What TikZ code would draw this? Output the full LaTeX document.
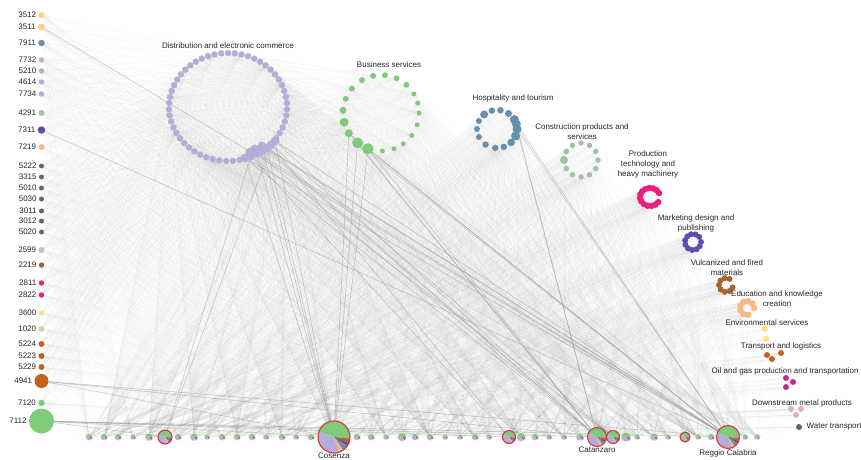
\documentclass[tikz,border=0pt]{standalone}
\usepackage{fontspec}
\setmainfont{Liberation Sans}
\usetikzlibrary{positioning}
\pgfdeclarelayer{edges}
\pgfsetlayers{edges,main}
\definecolor{cLav}{HTML}{B6ADD6}
\definecolor{cGreen}{HTML}{7FCB7A}
\definecolor{cSteel}{HTML}{6690AC}
\definecolor{cSage}{HTML}{9DC4A4}
\definecolor{cPink}{HTML}{EA1F7B}
\definecolor{cIndigo}{HTML}{5A4DB2}
\definecolor{cBrown}{HTML}{A6652F}
\definecolor{cPeach}{HTML}{F5B981}
\definecolor{cYellow}{HTML}{FBE47C}
\definecolor{cLemon}{HTML}{FDD37E}
\definecolor{cOrange}{HTML}{C2601C}
\definecolor{cMagenta}{HTML}{C22A90}
\definecolor{cRose}{HTML}{DBB4B6}
\definecolor{cGrey}{HTML}{666666}
\definecolor{cOlive}{HTML}{C5D99B}
\definecolor{cRed}{HTML}{D8343C}
\tikzset{
  x=1pt, y=-1pt,
  dot/.style={circle, inner sep=0pt, draw=none},
  lab/.style={font=\fontsize{8}{10}\selectfont, text=black!85, inner sep=0.5pt, align=center},
  haze/.style={draw=gray, line width=0.2pt, draw opacity=0.065},
  link/.style={draw=gray!85, line width=0.6pt, draw opacity=0.45},
  plainpie/.style={draw=white, line width=0.3pt},
  citypie/.style={draw=cRed, line width=1.1pt},
}
% pie slices inside a node: #1 node, #2 radius
\newcommand{\pieslices}[2]{%
  \fill[cGreen] (#1.center) -- ++(160:#2) arc[start angle=160, end angle=-5, radius=#2] -- cycle;
  \fill[cOrange] (#1.center) -- ++(-5:#2) arc[start angle=-5, end angle=-22, radius=#2] -- cycle;
  \fill[cIndigo] (#1.center) -- ++(-22:#2) arc[start angle=-22, end angle=-34, radius=#2] -- cycle;
  \fill[cSteel] (#1.center) -- ++(-34:#2) arc[start angle=-34, end angle=-55, radius=#2] -- cycle;
  \fill[cPeach] (#1.center) -- ++(-55:#2) arc[start angle=-55, end angle=-72, radius=#2] -- cycle;
  \fill[cLav] (#1.center) -- ++(-72:#2) arc[start angle=-72, end angle=-200, radius=#2] -- cycle;
}

\begin{document}
\begin{tikzpicture}
\useasboundingbox (0,0) rectangle (861,459);

% sector codes
\foreach \code/\y/\col/\s in {3512/15/cLemon/6, 3511/27/cLemon/7, 7911/43/cSteel/6.5,
    7732/60/cLav/5.5, 5210/71/cLav/5.5, 4614/82/cLav/5.5, 7734/94/cLav/5.5,
    4291/113/cSage/6, 7311/130/cIndigo/7.5, 7219/147/cPeach/6,
    5222/166/cGrey/5, 3315/177/cGrey/5, 5010/188/cGrey/5, 5030/199/cGrey/5,
    3011/211/cGrey/5, 3012/221/cGrey/5, 5020/232/cGrey/5, 2599/250/cRose/6,
    2219/265/cBrown/5.5, 2811/283/cPink/5.5, 2822/295/cPink/5.5, 3600/313/cYellow/5.5,
    1020/329/cOlive/6, 5224/344/cOrange/6, 5223/356/cOrange/6, 5229/367/cOrange/6,
    4941/381/cOrange/14, 7120/403/cGreen/6.5, 7112/421/cGreen/25}
  \node[dot, fill=\col, minimum size={\s*1pt}, label={[lab, label distance=1.5pt]left:\code}] (l\code) at (41.5,\y) {};

% distribution and electronic commerce
\node[lab] (distlab) at (228,46) {Distribution and electronic commerce};
\foreach \a [count=\i] in {72,78.6,...,400}
  \node[dot, fill=cLav, minimum size=6.5pt] (dist\i) at ({228+59*cos(\a)},{107+54*sin(\a)}) {};
\foreach \p [count=\i] in {(245,158),(251,156),(257,153),(262,151),(267,148),(271,145),(275,141),(255,149),(262,146),(250,152)}
  \node[dot, fill=cLav, minimum size=9pt] (blob\i) at \p {};

% business services
\node[lab] (buslab) at (389,65) {Business services};
\foreach \a/\s [count=\i] in {0/5, 18/5, 36/5, 54/5, 70/5, 88/5, 110/11, 128/11, 148/8, 166/9,
    184/7, 202/6, 220/6, 240/6, 258/6, 276/6, 294/6, 312/6, 330/5, 345/5}
  \node[dot, fill=cGreen, minimum size={\s*1pt}] (bus\i) at ({381+38*cos(\a)},{113+38*sin(\a)}) {};

% hospitality and tourism
\node[lab] (hoslab) at (513,98) {Hospitality and tourism};
\foreach \a/\s [count=\i] in {0/9, 22/9, 45/7.5, 70/6.5, 95/6.5, 125/6.5, 155/6, 180/6,
    205/6, 230/8, 255/6.5, 280/6.5, 305/7, 330/9, 345/9}
  \node[dot, fill=cSteel, minimum size={\s*1pt}] (hos\i) at ({497+20*cos(\a)},{129+19*sin(\a)}) {};

% construction products and services
\node[lab] (conlab) at (582,132) {Construction products and\\services};
\foreach \a/\s [count=\i] in {0/5.5, 30/5.5, 60/5.5, 90/5.5, 120/5.5, 150/5.5, 180/8,
    210/5.5, 240/5.5, 270/5.5, 300/5.5, 330/5.5}
  \node[dot, fill=cSage, minimum size={\s*1pt}] (con\i) at ({581+17*cos(\a)},{160+17*sin(\a)}) {};

% production technology and heavy machinery
\node[lab] (prodlab) at (648,164) {Production\\technology and\\heavy machinery};
\foreach \a [count=\i] in {35,58,...,335}
  \node[dot, fill=cPink, minimum size=6.5pt] (prod\i) at ({650+10*cos(\a)},{197+9*sin(\a)}) {};

% marketing design and publishing
\node[lab] (mktlab) at (696,223) {Marketing design and\\publishing};
\foreach \a [count=\i] in {0,32,...,320}
  \node[dot, fill=cIndigo, minimum size=6pt] (mkt\i) at ({693+8*cos(\a)},{242+8*sin(\a)}) {};

% vulcanized and fired materials
\node[lab] (vullab) at (727,268) {Vulcanized and fired\\materials};
\foreach \a [count=\i] in {20,60,...,300}
  \node[dot, fill=cBrown, minimum size=6pt] (vul\i) at ({726+7*cos(\a)},{285+7*sin(\a)}) {};

% education and knowledge creation
\node[lab] (edulab) at (777,299) {Education and knowledge\\creation};
\foreach \a [count=\i] in {80,120,...,360}
  \node[dot, fill=cPeach, minimum size=6.5pt] (edu\i) at ({747+7*cos(\a)},{308+7*sin(\a)}) {};

% small sectors
\node[lab] (envlab) at (767,323) {Environmental services};
\foreach \p [count=\i] in {(765,329),(766,339)}
  \node[dot, fill=cYellow, minimum size=6pt] (env\i) at \p {};
\node[lab] (tralab) at (781,346) {Transport and logistics};
\foreach \p [count=\i] in {(767,355),(772,359),(781,353)}
  \node[dot, fill=cOrange, minimum size=6pt] (tra\i) at \p {};
\node[lab, anchor=west] (oillab) at (711,371) {Oil and gas production and transportation};
\foreach \p [count=\i] in {(786,378),(793,382),(786,387)}
  \node[dot, fill=cMagenta, minimum size=6pt] (oil\i) at \p {};
\node[lab] (dsmlab) at (802,403) {Downstream metal products};
\foreach \p [count=\i] in {(791,409),(801,409),(796,415)}
  \node[dot, fill=cRose, minimum size=6pt] (dsm\i) at \p {};
\node[dot, fill=cGrey, minimum size=6pt] (wat1) at (799,427) {};
\node[lab, anchor=west] (watlab) at (806,427) {Water transport};

% municipalities
\foreach \x/\s/\st [count=\i] in {89/7/plainpie, 104/7/plainpie, 118/7/plainpie, 133/6/plainpie,
    149/8/plainpie, 165/14/citypie, 178/7/plainpie, 194/8/plainpie, 207/6/plainpie, 222/7/plainpie,
    237/7/plainpie, 252/7/plainpie, 266/6/plainpie, 282/7/plainpie, 296/6/plainpie, 311/7/plainpie,
    334/32/citypie, 357/7/plainpie, 371/7/plainpie, 386/6/plainpie, 402/9/plainpie, 415/7/plainpie,
    430/7/plainpie, 445/6/plainpie, 460/6/plainpie, 475/7/plainpie, 489/6/plainpie, 509/13/citypie,
    521/9/plainpie, 535/7/plainpie, 549/6/plainpie, 564/6/plainpie, 580/8/plainpie, 597/19/citypie,
    613/13/citypie, 626/10/plainpie, 637/6/plainpie, 654/8/plainpie, 668/6/plainpie, 685/10/citypie,
    698/6/plainpie, 711/7/plainpie, 728/23/citypie, 745/6/plainpie, 757/6/plainpie}{
  \node[dot, minimum size={\s*1pt}] (b\i) at (\x,437) {};
  \pgfmathsetlengthmacro\rad{\s/2*1pt}
  \pieslices{b\i}{\rad}
  \draw[\st] (b\i.center) circle[radius=\rad];
}
\node[lab, below=-1pt of b17] (cosenza) {Cosenza};
\node[lab, below=0pt of b34] (catanzaro) {Catanzaro};
\node[lab, below=0pt of b43] (reggio) {Reggio Calabria};

% links
\begin{pgfonlayer}{edges}
\begin{scope}[haze]
  \foreach \i in {1,...,50} \foreach \j in {2,5,...,44} \draw (dist\i) -- (b\j);
  \foreach \i in {1,...,10} \foreach \j in {1,3,...,45} \draw (blob\i) -- (b\j);
  \foreach \c in {3512,3511,7911,7732,5210,4614,7734,4291,7311,7219,5222,3315,5010,5030,3011,
      3012,5020,2599,2219,2811,2822,3600,1020,5224,5223,5229,4941,7120,7112}{
    \foreach \j in {1,4,...,43} \draw (l\c) -- (b\j);
    \foreach \j in {1,5,...,49} \draw (l\c) -- (dist\j);
  }
  \foreach \i in {1,...,20} \foreach \j in {1,3,...,45} \draw (bus\i) -- (b\j);
  \foreach \i in {1,...,15} \foreach \j in {1,3,...,45} \draw (hos\i) -- (b\j);
  \foreach \i in {1,...,12} \foreach \j in {2,4,...,44} \draw (con\i) -- (b\j);
  \foreach \i in {1,...,13} \foreach \j in {1,4,...,43} \draw (prod\i) -- (b\j);
  \foreach \i in {1,...,11} \foreach \j in {2,5,...,44} \draw (mkt\i) -- (b\j);
  \foreach \i in {1,...,8} \foreach \j in {1,4,...,43} \draw (vul\i) -- (b\j);
  \foreach \i in {1,...,7} \foreach \j in {2,5,...,44} \draw (edu\i) -- (b\j);
  \foreach \s in {env1,env2,tra1,tra2,tra3,oil1,oil2,oil3,dsm1,dsm2,dsm3,wat1}
    \foreach \j in {1,5,...,45} \draw (\s) -- (b\j);
  \foreach \i in {1,4,...,49} \foreach \j in {1,3,...,19} \draw (dist\i) -- (bus\j);
\end{scope}
% strong links
\foreach \s in {blob1,blob3,blob5,blob7,blob9} \foreach \t in {b17,b34,b43} \draw[link] (\s) -- (\t);
\foreach \s in {blob2,blob6} \foreach \t in {b6,b28,b35} \draw[link] (\s) -- (\t);
\foreach \s in {bus7,bus8,bus9} \foreach \t in {b17,b34,b43} \draw[link] (\s) -- (\t);
\foreach \s in {hos1,hos15} \foreach \t in {b34,b43} \draw[link] (\s) -- (\t);
\foreach \t in {b6,b17,b28,b34,b43} \draw[link] (l7112) -- (\t);
\foreach \t in {b17,b34,b43} \draw[link] (l4941) -- (\t);
\foreach \s in {l3511,l7311} \draw[link] (\s) -- (b43);
\end{pgfonlayer}
\end{tikzpicture}
\end{document}
